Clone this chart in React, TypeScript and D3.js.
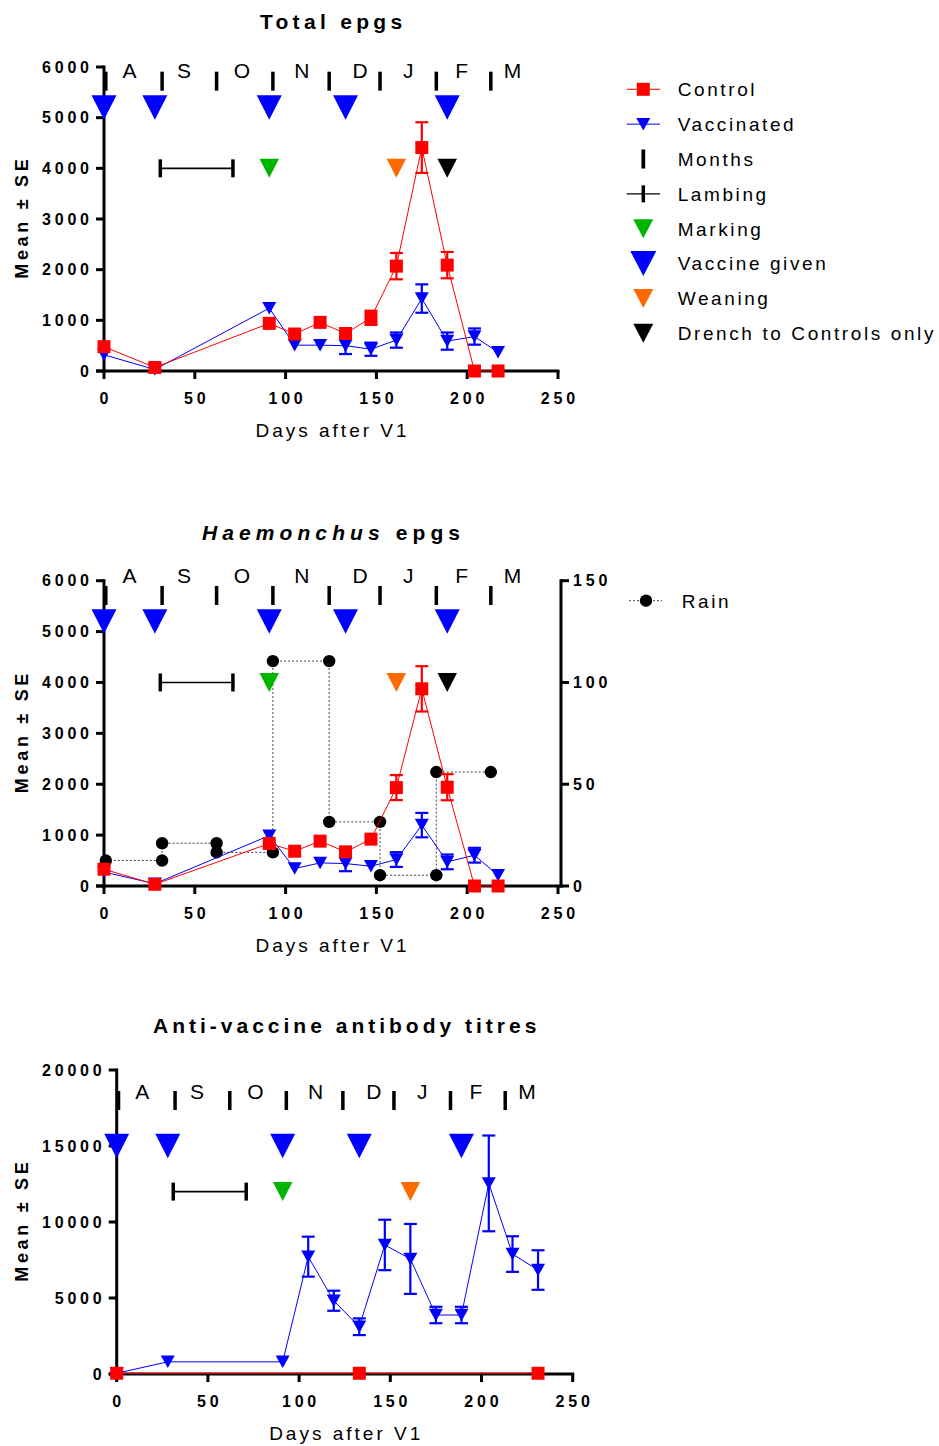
import React from "react";
import * as d3 from "d3";

// ---- Sampling schedule (days after first vaccination, V1) ----
const sampleDays = [0, 28, 91, 105, 119, 133, 147, 161, 175, 189, 204, 217];

// Total faecal egg counts (eggs per gram), mean and SE
const totalControlMean = [480, 70, 940, 730, 960, 740, 1050, 2070, 4410, 2090, 0, 0];
const totalControlSE = [0, 0, 0, 0, 0, 0, 140, 260, 500, 260, 0, 0];
const totalVaccMean = [320, 30, 1240, 510, 510, 500, 430, 610, 1430, 590, 680, 370];
const totalVaccSE = [0, 0, 0, 0, 0, 165, 130, 150, 280, 170, 160, 0];

// Haemonchus egg counts
const haemControlMean = [330, 33, 835, 684, 882, 671, 921, 1934, 3875, 1941, 0, 0];
const haemControlSE = [0, 0, 0, 0, 0, 0, 0, 245, 445, 256, 0, 0];
const haemVaccMean = [275, 45, 990, 342, 454, 441, 388, 520, 1197, 474, 605, 210];
const haemVaccSE = [0, 0, 0, 0, 0, 150, 0, 145, 240, 145, 145, 0];

// Monthly rainfall (mm), drawn from the start to the end of each month
const rainStartDay = [1, 32, 62, 93, 124, 152, 183];
const rainEndDay = [32, 62, 93, 124, 152, 183, 213];
const rainMm = [12.5, 21, 16.5, 110.5, 31.5, 5.3, 56];

// Anti-vaccine antibody titres
const titreVaccDays = [0, 28, 91, 105, 119, 133, 147, 161, 175, 189, 204, 217, 231];
const titreVaccMean = [50, 800, 800, 7720, 4820, 3110, 8490, 7570, 3880, 3880, 12540, 7890, 6840];
const titreVaccSE = [0, 0, 0, 1315, 660, 550, 1660, 2300, 540, 540, 3150, 1170, 1300];
const titreControlDays = [0, 133, 231];
const titreControlMean = [50, 50, 50];

// Calendar and management events
const monthLabels = ["A", "S", "O", "N", "D", "J", "F", "M"];
const monthLabelDays = [14, 44, 76, 109, 141, 167.5, 197, 225];
const monthStartDays = [1, 32, 62, 93, 124, 152, 183, 213];
const vaccineDays = [0, 28, 91, 133, 189];
const lambingDays = [31, 71];
const markingDay = 91;
const weaningDay = 161;
const drenchDay = 189;

const xTicks = [0, 50, 100, 150, 200, 250];
const epgTicks = [0, 1000, 2000, 3000, 4000, 5000, 6000];
const titreTicks = [0, 5000, 10000, 15000, 20000];
const rainTicks = [0, 50, 100, 150];

const legendLabels = [
  "Control",
  "Vaccinated",
  "Months",
  "Lambing",
  "Marking",
  "Vaccine given",
  "Weaning",
  "Drench to Controls only",
];

const FONT = "'Liberation Sans', Arial, Helvetica, sans-serif";
const RED = "#ff0000";
const BLUE = "#0000ff";
const GREEN = "#00b400";
const ORANGE = "#ff6a00";

type Series = {
  days: number[];
  mean: number[];
  se?: number[];
  color: string;
  marker: "square" | "tri";
};

type PanelCfg = {
  left: number;
  right: number;
  top: number;
  bottom: number;
  yMax: number;
  yTicks: number[];
  titleY: number;
  titleSpacing: number;
  title: React.ReactNode;
  letterLevel: number;
  barLevel: number;
  vaccineLevel: number;
  eventLevel: number;
  drench: boolean;
  series: Series[];
  rain?: boolean;
};

function triPath(cx: number, cy: number, w: number, h: number) {
  return `M${cx - w / 2},${cy - h / 2}L${cx + w / 2},${cy - h / 2}L${cx},${cy + h / 2}Z`;
}

function Marker({ kind, x, y, color }: { kind: "square" | "tri"; x: number; y: number; color: string }) {
  if (kind === "square") {
    return <rect x={x - 6.5} y={y - 6.5} width={13} height={13} fill={color} />;
  }
  return <path d={triPath(x, y, 14, 12.5)} fill={color} />;
}

function Panel({ cfg }: { cfg: PanelCfg }) {
  const x = d3.scaleLinear().domain([0, 250]).range([cfg.left, cfg.right]);
  const y = d3.scaleLinear().domain([0, cfg.yMax]).range([cfg.bottom, cfg.top]);
  const rainY = d3.scaleLinear().domain([0, 150]).range([cfg.bottom, cfg.top]);
  const cx = (cfg.left + cfg.right) / 2;
  const rightAxisX = cfg.right + 3;

  const tickStyle = { fontFamily: FONT, fontSize: 16, fontWeight: 700, letterSpacing: 3.8 } as const;

  const rainPts: [number, number][] = [];
  rainMm.forEach((v, i) => {
    rainPts.push([rainStartDay[i], v]);
    rainPts.push([rainEndDay[i], v]);
  });
  const rainLine = d3
    .line<[number, number]>()
    .x((d) => x(d[0]))
    .y((d) => rainY(d[1]));

  return (
    <g>
      {/* title */}
      <text
        x={cx + cfg.titleSpacing / 2}
        y={cfg.titleY}
        textAnchor="middle"
        fontFamily={FONT}
        fontSize={21}
        fontWeight={700}
        letterSpacing={cfg.titleSpacing}
      >
        {cfg.title}
      </text>

      {/* y-axis title */}
      <text
        transform={`translate(28,${(cfg.top + cfg.bottom) / 2}) rotate(-90)`}
        textAnchor="middle"
        dx={1.8}
        fontFamily={FONT}
        fontSize={18}
        fontWeight={700}
        letterSpacing={3.7}
      >
        Mean ± SE
      </text>

      {/* x-axis title */}
      <text x={cx + 1.5} y={cfg.bottom + 66} textAnchor="middle" fontFamily={FONT} fontSize={19} letterSpacing={3}>
        Days after V1
      </text>

      {/* left axis */}
      <g stroke="#000" strokeWidth={3}>
        <line x1={cfg.left} x2={cfg.left} y1={cfg.bottom + 1.5} y2={cfg.top - 1.5} />
        {cfg.yTicks.map((t) => (
          <line key={"yt" + t} x1={cfg.left - 8} x2={cfg.left} y1={y(t)} y2={y(t)} />
        ))}
      </g>
      {cfg.yTicks.map((t) => (
        <text key={"yl" + t} x={cfg.left - 15 + 3.8} y={y(t)} dy="0.36em" textAnchor="end" {...tickStyle}>
          {t}
        </text>
      ))}

      {/* bottom axis */}
      <g stroke="#000" strokeWidth={3}>
        <line x1={cfg.left - 8} x2={cfg.rain ? rightAxisX + 1.5 : cfg.right + 1.5} y1={cfg.bottom} y2={cfg.bottom} />
        {xTicks.map((t) => (
          <line key={"xt" + t} x1={x(t)} x2={x(t)} y1={cfg.bottom} y2={cfg.bottom + 8} />
        ))}
      </g>
      {xTicks.map((t) => (
        <text key={"xl" + t} x={x(t) + 1.9} y={cfg.bottom + 33} textAnchor="middle" {...tickStyle}>
          {t}
        </text>
      ))}

      {/* right axis for rain */}
      {cfg.rain && (
        <g>
          <g stroke="#000" strokeWidth={3}>
            <line x1={rightAxisX} x2={rightAxisX} y1={cfg.bottom + 1.5} y2={cfg.top - 1.5} />
            {rainTicks.map((t) => (
              <line key={"rt" + t} x1={rightAxisX} x2={rightAxisX + 8} y1={rainY(t)} y2={rainY(t)} />
            ))}
          </g>
          {rainTicks.map((t) => (
            <text key={"rl" + t} x={rightAxisX + 12} y={rainY(t)} dy="0.36em" textAnchor="start" {...tickStyle}>
              {t}
            </text>
          ))}
        </g>
      )}

      {/* rain on the right axis */}
      {cfg.rain && (
        <g>
          <path d={rainLine(rainPts) || ""} fill="none" stroke="#444" strokeWidth={1} strokeDasharray="2,2" />
          {rainPts.map((p, i) => (
            <circle key={i} cx={x(p[0])} cy={rainY(p[1])} r={6.2} fill="#000" />
          ))}
        </g>
      )}

      {/* months */}
      {monthStartDays.map((d, i) => (
        <rect key={"mb" + i} x={x(d) - 1.75} y={y(cfg.barLevel) - 9.5} width={3.5} height={19} fill="#000" />
      ))}
      {monthLabels.map((m, i) => (
        <text key={"ml" + i} x={x(monthLabelDays[i])} y={y(cfg.letterLevel)} textAnchor="middle" fontFamily={FONT} fontSize={21}>
          {m}
        </text>
      ))}

      {/* vaccinations */}
      {vaccineDays.map((d, i) => (
        <path key={"v" + i} d={triPath(x(d), y(cfg.vaccineLevel), 25, 24.5)} fill={BLUE} />
      ))}

      {/* lambing period */}
      <g stroke="#000">
        <line x1={x(lambingDays[0])} x2={x(lambingDays[1])} y1={y(cfg.eventLevel)} y2={y(cfg.eventLevel)} strokeWidth={1.6} />
        {lambingDays.map((d, i) => (
          <line key={"lc" + i} x1={x(d)} x2={x(d)} y1={y(cfg.eventLevel) - 9} y2={y(cfg.eventLevel) + 9} strokeWidth={3.5} />
        ))}
      </g>

      {/* marking, weaning, drench */}
      <path d={triPath(x(markingDay), y(cfg.eventLevel), 19.5, 19)} fill={GREEN} />
      <path d={triPath(x(weaningDay), y(cfg.eventLevel), 19.5, 19)} fill={ORANGE} />
      {cfg.drench && <path d={triPath(x(drenchDay), y(cfg.eventLevel), 19.5, 19)} fill="#000" />}

      {/* data series */}
      {cfg.series.map((s, si) => {
        const line = d3
          .line<number>()
          .x((_, i) => x(s.days[i]))
          .y((v) => y(v));
        return (
          <g key={"s" + si}>
            <path d={line(s.mean) || ""} fill="none" stroke={s.color} strokeWidth={1} />
            {s.se &&
              s.mean.map((m, i) => {
                const e = s.se![i];
                if (!e) return null;
                const px = x(s.days[i]);
                return (
                  <g key={"e" + i} stroke={s.color} strokeWidth={2.2}>
                    <line x1={px} x2={px} y1={y(m - e)} y2={y(m + e)} />
                    <line x1={px - 6.5} x2={px + 6.5} y1={y(m - e)} y2={y(m - e)} />
                    <line x1={px - 6.5} x2={px + 6.5} y1={y(m + e)} y2={y(m + e)} />
                  </g>
                );
              })}
            {s.mean.map((m, i) => (
              <Marker key={"m" + i} kind={s.marker} x={x(s.days[i])} y={y(m)} color={s.color} />
            ))}
          </g>
        );
      })}
    </g>
  );
}

function Legend() {
  const sx = 643.3;
  const tx = 677.7;
  const y0 = 89.3;
  const step = 34.85;
  const ls = { fontFamily: FONT, fontSize: 19, letterSpacing: 2.6 } as const;
  const symbols = [
    <g>
      <line x1={626.7} x2={660} y1={0} y2={0} stroke={RED} strokeWidth={1} />
      <rect x={-6.5 + sx} y={-6.5} width={13} height={13} fill={RED} />
    </g>,
    <g>
      <line x1={626.7} x2={660} y1={0} y2={0} stroke={BLUE} strokeWidth={1} />
      <path d={triPath(sx, 0, 14, 12.5)} fill={BLUE} />
    </g>,
    <rect x={sx - 1.9} y={-9.5} width={3.8} height={19} fill="#000" />,
    <g stroke="#000">
      <line x1={626.7} x2={660} y1={0} y2={0} strokeWidth={1.3} />
      <line x1={sx} x2={sx} y1={-8.5} y2={8.5} strokeWidth={3.5} />
    </g>,
    <path d={triPath(sx, 0, 20, 19)} fill={GREEN} />,
    <path d={triPath(sx, 0, 26, 25)} fill={BLUE} />,
    <path d={triPath(sx, 0, 20, 19)} fill={ORANGE} />,
    <path d={triPath(sx, 0, 20, 19)} fill="#000" />,
  ];
  return (
    <g>
      {legendLabels.map((lab, i) => {
        const yy = y0 + i * step;
        return (
          <g key={lab}>
            <g transform={`translate(0,${yy})`}>{symbols[i]}</g>
            <text x={tx} y={yy} dy="0.36em" {...ls}>
              {lab}
            </text>
          </g>
        );
      })}
      {/* rain legend beside the second panel */}
      <g>
        <line x1={629} x2={662} y1={600.7} y2={600.7} stroke="#444" strokeWidth={1} strokeDasharray="2,2" />
        <circle cx={646} cy={600.7} r={6.2} fill="#000" />
        <text x={681.7} y={600.7} dy="0.36em" {...ls}>
          Rain
        </text>
      </g>
    </g>
  );
}

const panels: PanelCfg[] = [
  {
    left: 104,
    right: 558,
    top: 67,
    bottom: 371,
    yMax: 6000,
    yTicks: epgTicks,
    titleY: 29,
    titleSpacing: 4.3,
    title: "Total epgs",
    letterLevel: 5777,
    barLevel: 5720,
    vaccineLevel: 5200,
    eventLevel: 4000,
    drench: true,
    series: [
      { days: sampleDays, mean: totalVaccMean, se: totalVaccSE, color: BLUE, marker: "tri" },
      { days: sampleDays, mean: totalControlMean, se: totalControlSE, color: RED, marker: "square" },
    ],
  },
  {
    left: 104,
    right: 558,
    top: 580.7,
    bottom: 886,
    yMax: 6000,
    yTicks: epgTicks,
    titleY: 540,
    titleSpacing: 5.1,
    title: (
      <>
        <tspan fontStyle="italic">Haemonchus</tspan>
        <tspan> epgs</tspan>
      </>
    ),
    letterLevel: 5949,
    barLevel: 5710,
    vaccineLevel: 5200,
    eventLevel: 4000,
    drench: true,
    rain: true,
    series: [
      { days: sampleDays, mean: haemVaccMean, se: haemVaccSE, color: BLUE, marker: "tri" },
      { days: sampleDays, mean: haemControlMean, se: haemControlSE, color: RED, marker: "square" },
    ],
  },
  {
    left: 116.7,
    right: 572.7,
    top: 1070,
    bottom: 1374,
    yMax: 20000,
    yTicks: titreTicks,
    titleY: 1033,
    titleSpacing: 4.0,
    title: "Anti-vaccine antibody titres",
    letterLevel: 18092,
    barLevel: 17993,
    vaccineLevel: 15000,
    eventLevel: 12000,
    drench: false,
    series: [
      { days: titreVaccDays, mean: titreVaccMean, se: titreVaccSE, color: BLUE, marker: "tri" },
      { days: titreControlDays, mean: titreControlMean, color: RED, marker: "square" },
    ],
  },
];

export default function App() {
  return (
    <svg
      width={939}
      height={1446}
      viewBox="0 0 939 1446"
      style={{ position: "absolute", left: 0, top: 0, background: "#fff", display: "block" }}
    >
      <rect x={0} y={0} width={939} height={1446} fill="#fff" />
      {panels.map((p, i) => (
        <Panel key={i} cfg={p} />
      ))}
      <Legend />
    </svg>
  );
}
